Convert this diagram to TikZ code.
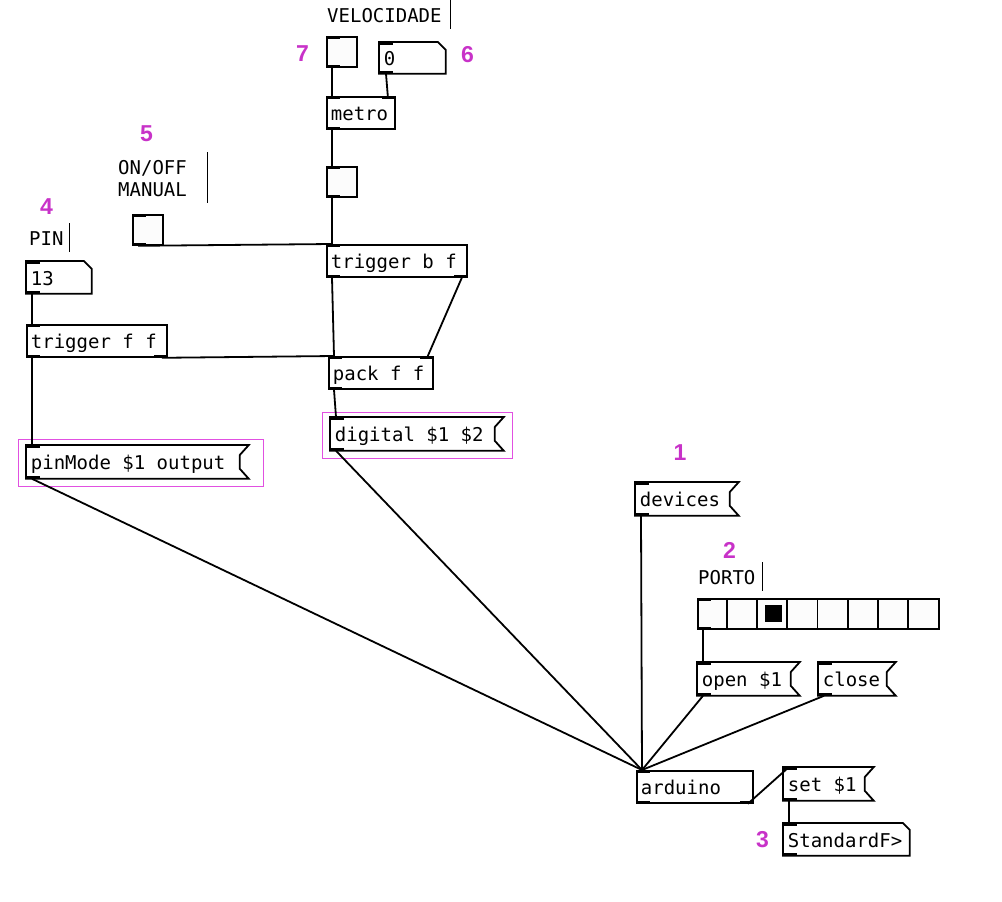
\documentclass[tikz,border=0pt]{standalone}
\usepackage{fontspec}
\newfontfamily\pdmono{DejaVu Sans Mono}
\newfontfamily\tagfont{Liberation Sans}
\newcommand\pdfontsize{\fontsize{19}{22}\selectfont}
\definecolor{tagpink}{RGB}{200,50,200}
\definecolor{selpink}{RGB}{225,80,225}
\definecolor{guibg}{RGB}{252,252,252}

\tikzset{
  pdbox/.style={font=\pdmono\pdfontsize, anchor=north west,
    inner xsep=4pt, inner ysep=0pt, minimum height=32pt,
    text height=20pt, text depth=4pt, align=flush left, line width=1.8pt,
    execute at begin node={\spaceskip=0.602em\relax}},
  obj/.style={pdbox, draw, text width=#1},
  msg/.style={pdbox, text width=#1},
  atom/.style={pdbox, text width=#1, minimum height=30pt},
  gui/.style={draw, fill=guibg, line width=1.8pt, anchor=north west,
    minimum size=30pt, inner sep=0pt},
  cmt/.style={font=\pdmono\pdfontsize, anchor=north west,
    inner sep=0pt, text width=#1, align=flush left, text height=22pt, text depth=7pt},
  tag/.style={font=\tagfont\bfseries\fontsize{23}{23}\selectfont, text=tagpink, inner sep=0pt},
  edge/.style={line width=1.8pt},
  wire/.style={line width=1.8pt,
    to path={([xshift=6pt]\tikztostart.south west) -- ([xshift=6pt]\tikztotarget.north west)}},
  hilite/.style={draw=selpink, line width=0.9pt},
  cmtline/.style={line width=0.9pt}
}

\begin{document}
\begin{tikzpicture}[x=1pt, y=-1pt]

  \useasboundingbox (0,0) rectangle (1002,902);

  % Define nodes
  \node[cmt=123pt]                 (vel)     at (327,0)   {VELOCIDADE};
  \node[gui]                       (tglvel)  at (326,36)  {};
  \node[atom=57pt]                 (numvel)  at (379,42)  {0};
  \node[obj=60pt]                  (metro)   at (326,96)  {metro};
  \node[gui]                       (bangb)   at (326,166) {};
  \node[cmt=89pt, text depth=29pt] (onoff)   at (118,152) {ON/OFF\\MANUAL};
  \node[gui]                       (tglman)  at (132,214) {};
  \node[obj=132pt]                 (trigb)   at (326,244) {trigger b f};
  \node[cmt=40pt]                  (pin)     at (29,223)  {PIN};
  \node[atom=56pt, minimum height=31pt] (numpin) at (26,261) {13};
  \node[obj=132pt]                 (trigf)   at (26,324)  {trigger f f};
  \node[obj=96pt]                  (pack)    at (328,356) {pack f f};
  \node[msg=164pt]                 (digital) at (330,417) {digital \$1 \$2};
  \node[msg=213pt]                 (pinmode) at (26,445)  {pinMode \$1 output};
  \node[msg=94pt]                  (devices) at (635,482) {devices};
  \node[cmt=64pt]                  (porto)   at (698,562) {PORTO};
  \node[gui, minimum width=241pt]  (porta)   at (697,598) {};
  \node[msg=93pt]                  (openport)  at (697,662) {open \$1};
  \node[msg=68pt]                  (closeport) at (818,662) {close};
  \node[obj=108pt]                 (arduino) at (636,770) {arduino};
  \node[msg=81pt]                  (setport) at (783,767) {set \$1};
  \node[atom=117pt, minimum height=31pt] (symout) at (783,823) {StandardF>};

  % numbered tags
  \node[tag] (t1) at (680,452.5) {1};
  \node[tag] (t2) at (729.5,550) {2};
  \node[tag] (t3) at (762.5,840) {3};
  \node[tag] (t4) at (46.5,206.5) {4};
  \node[tag] (t5) at (146.5,133.5) {5};
  \node[tag] (t6) at (467.5,55) {6};
  \node[tag] (t7) at (302.5,53.5) {7};

  % box outlines
  \foreach \m in {pinmode, digital, devices, openport, closeport, setport}
    \draw[edge] (\m.north west) -- (\m.north east) -- ([shift={(-9pt,-10pt)}]\m.north east)
      -- ([shift={(-9pt,10pt)}]\m.south east) -- (\m.south east) -- (\m.south west) -- cycle;
  \foreach \m/\c in {numvel/8pt, numpin/8pt, symout/7pt}
    \draw[edge] (\m.north west) -- ([xshift=-\c]\m.north east) -- ([yshift=-\c]\m.north east)
      -- (\m.south east) -- (\m.south west) -- cycle;
  \foreach \i in {1,...,7}
    \draw[edge] ([xshift=\i*30.125pt]porta.north west) -- ([xshift=\i*30.125pt]porta.south west);
  \fill ([shift={(68pt,8.5pt)}]porta.west) rectangle ++(17,17);
  \foreach \c in {vel, onoff, pin, porto}
    \draw[cmtline] (\c.north east) -- (\c.south east);

  % selection frames
  \draw[hilite] ([shift={(-8pt,6pt)}]pinmode.north west) rectangle ([shift={(15pt,-8pt)}]pinmode.south east);
  \draw[hilite] ([shift={(-8pt,5pt)}]digital.north west) rectangle ([shift={(9pt,-8pt)}]digital.south east);

  % inlets and outlets
  \foreach \n in {tglvel, numvel, metro, bangb, tglman, trigb, numpin, trigf, pack, digital,
                  pinmode, devices, porta, openport, closeport, arduino, setport, symout} {
    \fill (\n.north west) rectangle ++(14,3);
    \fill (\n.south west) rectangle ++(14,-3);
  }
  \foreach \n in {metro, pack}
    \fill (\n.north east) rectangle ++(-14,3);
  \foreach \n in {trigb, trigf, arduino}
    \fill (\n.south east) rectangle ++(-14,-3);

  % Connect the nodes
  \draw[wire] (tglvel) to (metro);
  \draw[wire] ([xshift=7pt]numvel.south west) -- ([xshift=-8pt]metro.north east);
  \draw[wire] (metro) to (bangb);
  \draw[wire] (bangb) to (trigb);
  \draw[wire] (tglman) to (trigb);
  \draw[wire] (numpin) to (trigf);
  \draw[wire] (trigb) to (pack);
  \draw[wire] ([xshift=-6pt]trigb.south east) -- ([xshift=-6pt]pack.north east);
  \draw[wire] ([xshift=-6pt]trigf.south east) -- ([xshift=6pt]pack.north west);
  \draw[wire] (pack) to (digital);
  \draw[wire] (trigf) to (pinmode);
  \draw[wire] (porta) to (openport);
  \foreach \s in {pinmode, digital, devices, openport, closeport}
    \draw[wire] (\s) to (arduino);
  \draw[wire] ([xshift=-6pt]arduino.south east) -- ([xshift=6pt]setport.north west);
  \draw[wire] (setport) to (symout);

\end{tikzpicture}
\end{document}
